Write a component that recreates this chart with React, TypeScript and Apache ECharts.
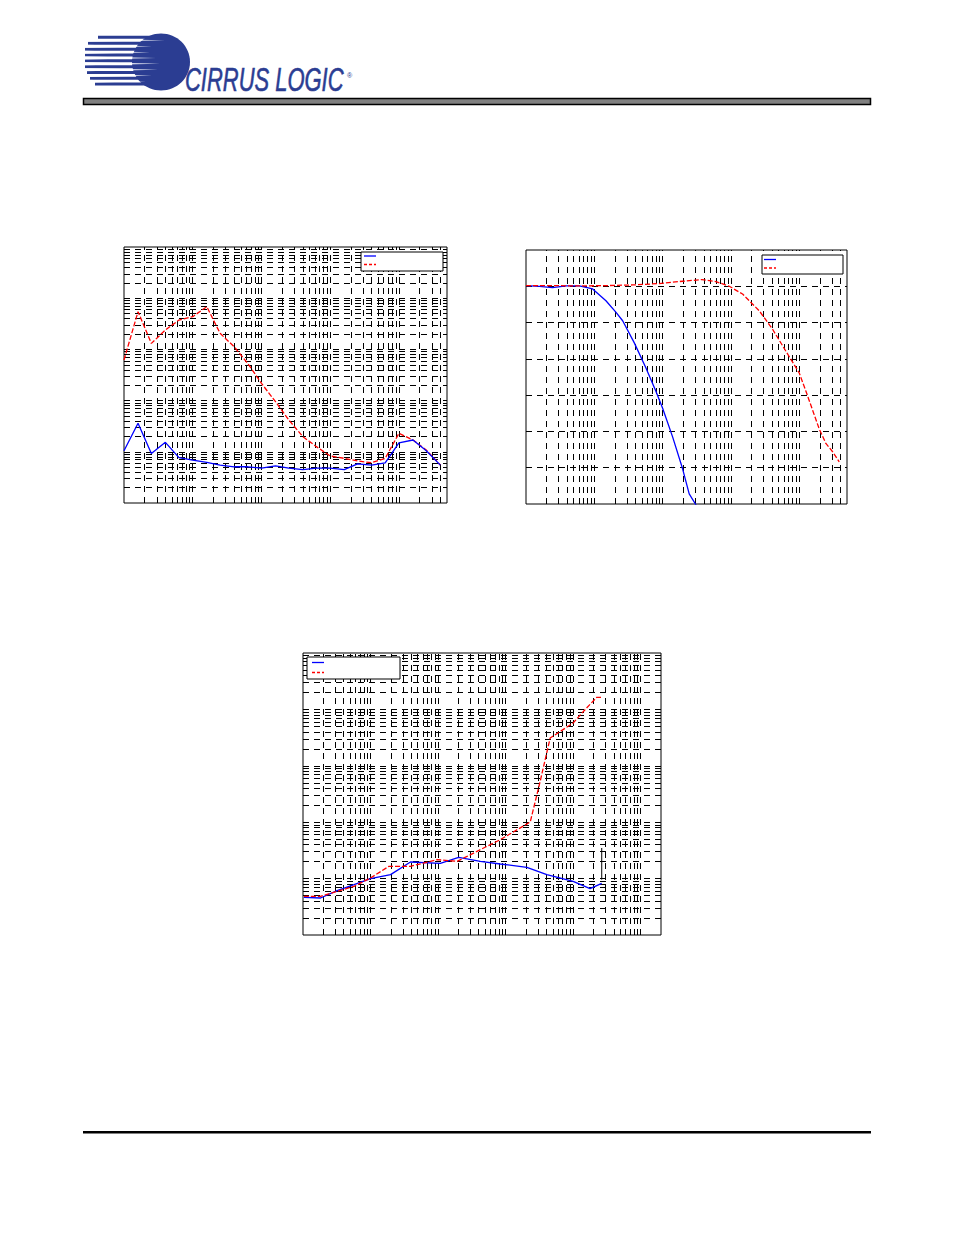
import React, { useEffect, useRef } from "react";
import * as echarts from "echarts";

// ---------- Chart 1 (left, log-log) ----------
const c1Freq = [1, 1.6, 2.5, 4, 6.3, 10, 16, 25, 40, 63, 100, 160, 250, 400, 630, 1000, 1600, 2500, 4000, 6300, 10000, 16000, 25000, 40000];
const c1Red = [0.062, 0.546, 0.131, 0.239, 0.375, 0.436, 0.683, 0.206, 0.113, 0.0534, 0.0217, 0.00953, 0.00418, 0.00198, 0.00126, 0.000828, 0.000745, 0.000661, 0.000614, 0.000745, 0.0023, 0.0017, 0.00108, 0.000552];
const c1Blue = [0.00105, 0.0036, 0.00093, 0.00153, 0.00077, 0.00069, 0.00062, 0.00055, 0.00051, 0.00051, 0.00048, 0.00053, 0.00048, 0.00045, 0.00048, 0.00048, 0.00045, 0.00058, 0.00055, 0.00061, 0.0015, 0.0017, 0.00105, 0.00055];

// ---------- Chart 2 (right, log-x, linear y) ----------
const c2BlueFreq = [1, 1.57, 2.45, 3.85, 6.03, 9.46, 14.8, 20.8, 26, 38.5, 57, 80, 100, 140, 196, 245, 307, 363];
const c2BlueVal = [0.19, 0, -0.37, 0.09, 0.09, -0.74, -3.98, -7.2, -9.5, -15.6, -22.5, -29, -33.6, -41.5, -50.3, -57.2, -60.2, -63];
const c2RedFreq = [1, 2.45, 6.03, 14.8, 36.6, 89, 196, 376, 603, 946, 1480, 2600, 4070, 6380, 10000, 12570, 15660, 19500, 24500, 30800, 38500];
const c2RedVal = [0.19, 0.19, 0.09, 0.19, 0.37, 0.74, 1.39, 1.85, 1.3, 0, -2.13, -6.76, -11.85, -17.9, -23.9, -29, -34.1, -39.2, -43.3, -45.6, -48.4];
const c2YTicks = [-50, -40, -30, -20, -10, 0];

// ---------- Chart 3 (bottom, log-log) ----------
const c3BlueFreq = [1.03, 1.82, 3.2, 5.7, 10, 19.8, 39, 108, 202, 423, 833, 2066, 4080, 10000, 17800, 26500];
const c3BlueVal = [0.00466, 0.00453, 0.0061, 0.0078, 0.00997, 0.01175, 0.0197, 0.01866, 0.0238, 0.0202, 0.01815, 0.01585, 0.01175, 0.00895, 0.00664, 0.00824];
const c3RedFreq = [1.03, 1.82, 3.2, 5.7, 10, 18.7, 39, 97, 191, 377, 833, 2316, 3250, 4570, 10000, 15800, 22400, 27400];
const c3RedVal = [0.00485, 0.00485, 0.00594, 0.0073, 0.01025, 0.0165, 0.0165, 0.0217, 0.0202, 0.0304, 0.049, 0.1009, 0.531, 3.11, 5.74, 10.6, 16.4, 16.4];
const c3MarkerFreq = 26500;
const c3MarkerRange = [0.0349, 0.0096];

const BLUE = "#0000ff";
const RED = "#ff0000";
const NAVY = "#2b3d92";

function logTicks(min: number, max: number): number[] {
  const out: number[] = [];
  for (let e = -6; e <= 7; e++) {
    for (let m = 1; m <= 9; m++) {
      const v = parseFloat((m * Math.pow(10, e)).toPrecision(6));
      if (v > min * 1.0001 && v < max * 0.9999) out.push(v);
    }
  }
  return out;
}

const gridLineStyle = { color: "#000", width: 1, type: [6, 5] as any, opacity: 1 };

function gridSeries(idx: number, xs: number[], ys: number[], anchor: [number, number]) {
  return {
    type: "line",
    xAxisIndex: idx,
    yAxisIndex: idx,
    data: [anchor],
    symbol: "none",
    lineStyle: { opacity: 0 },
    silent: true,
    z: 1,
    markLine: {
      silent: true,
      precision: 12,
      symbol: ["none", "none"],
      label: { show: false },
      lineStyle: gridLineStyle,
      emphasis: { disabled: true },
      data: [...xs.map((v) => ({ xAxis: v })), ...ys.map((v) => ({ yAxis: v }))],
    },
  };
}

function curve(idx: number, xs: number[], ys: number[], color: string, dashed: boolean) {
  return {
    type: "line",
    xAxisIndex: idx,
    yAxisIndex: idx,
    data: xs.map((x, i) => [x, ys[i]]),
    symbol: "none",
    showSymbol: false,
    clip: true,
    z: 5,
    lineStyle: { color, width: 1.3, type: dashed ? ([5, 2] as any) : "solid" },
  };
}

const hiddenAxis = (type: string, min: number, max: number, idx: number, extra: any = {}) => ({
  type,
  gridIndex: idx,
  min,
  max,
  ...(type === "log" ? { logBase: 10 } : {}),
  axisLabel: { show: false },
  axisTick: { show: false },
  axisLine: { show: false },
  splitLine: { show: false },
  ...extra,
});

function legendBox(x: number, y: number, w: number, h: number, lx: number, ly1: number, ly2: number) {
  return [
    { type: "rect", z: 100, shape: { x, y, width: w, height: h }, style: { fill: "#fff", stroke: "#000", lineWidth: 1 } },
    { type: "line", z: 101, shape: { x1: lx, y1: ly1, x2: lx + 12, y2: ly1 }, style: { stroke: BLUE, lineWidth: 1.3 } },
    { type: "line", z: 101, shape: { x1: lx, y1: ly2, x2: lx + 12, y2: ly2 }, style: { stroke: RED, lineWidth: 1.3, lineDash: [3, 2] } },
  ];
}

function logoElements() {
  const rows = [37.3, 43.3, 49.3, 55, 60.8, 66.7, 72.6, 78.3, 84];
  const starts = [98, 88, 85, 85, 85, 85, 87, 90, 95];
  const whiteEnds = [165, 152, 150, 156, 160, 158, 152, 146, 140];
  const els: any[] = [];
  rows.forEach((y, i) => {
    els.push({ type: "rect", z: 100, shape: { x: starts[i], y: y - 1.5, width: 165 - starts[i], height: 3 }, style: { fill: NAVY } });
  });
  els.push({ type: "ellipse", z: 101, shape: { cx: 161, cy: 62, rx: 29, ry: 28.5 }, style: { fill: NAVY } });
  for (let i = 0; i < rows.length - 1; i++) {
    const yc = (rows[i] + rows[i + 1]) / 2;
    els.push({
      type: "polygon",
      z: 102,
      shape: { points: [[84, yc - 1.5], [whiteEnds[i], yc], [84, yc + 1.5]] },
      style: { fill: "#fff" },
    });
  }
  els.push({
    type: "group",
    x: 185,
    y: 79.5,
    scaleX: 0.665,
    z: 103,
    children: [
      {
        type: "text",
        z: 103,
        style: {
          text: "CIRRUS LOGIC",
          x: 0,
          y: 0,
          fill: NAVY,
          stroke: NAVY,
          lineWidth: 0.6,
          fontFamily: "Liberation Sans",
          fontStyle: "italic",
          fontSize: 33,
          textVerticalAlign: "middle",
          textAlign: "left",
        },
      },
    ],
  });
  els.push({
    type: "text",
    z: 103,
    style: { text: "®", x: 347, y: 72, fill: NAVY, fontFamily: "Liberation Sans", fontSize: 7 },
  });
  return els;
}

export default function App() {
  const ref = useRef<HTMLDivElement>(null);
  useEffect(() => {
    if (!ref.current) return;
    const chart = echarts.init(ref.current, undefined, { renderer: "svg" });
    const grids = [
      { left: 124, top: 247, width: 323, height: 256 },
      { left: 526, top: 250, width: 321, height: 254 },
      { left: 303, top: 653, width: 358, height: 282 },
    ].map((g) => ({ ...g, show: true, borderColor: "#000", borderWidth: 1, backgroundColor: "transparent", containLabel: false }));

    const option: any = {
      animation: false,
      backgroundColor: "#fff",
      grid: grids,
      xAxis: [
        hiddenAxis("log", 1, 50000, 0),
        hiddenAxis("log", 1, 50000, 1),
        hiddenAxis("log", 1, 200000, 2),
      ],
      yAxis: [
        hiddenAxis("log", 0.0001, 10, 0),
        hiddenAxis("value", -60, 10, 1, { interval: 10 }),
        hiddenAxis("log", 0.001, 100, 2),
      ],
      series: [
        gridSeries(0, logTicks(1, 50000), logTicks(0.0001, 10), [1, 0.0001]),
        gridSeries(1, logTicks(1, 50000), c2YTicks, [1, -60]),
        gridSeries(2, logTicks(1, 200000), logTicks(0.001, 100), [1, 0.001]),
        curve(0, c1Freq, c1Red, RED, true),
        curve(0, c1Freq, c1Blue, BLUE, false),
        curve(1, c2BlueFreq, c2BlueVal, BLUE, false),
        curve(1, c2RedFreq, c2RedVal, RED, true),
        curve(2, c3BlueFreq, c3BlueVal, BLUE, false),
        curve(2, c3RedFreq, c3RedVal, RED, true),
        {
          type: "line",
          xAxisIndex: 2,
          yAxisIndex: 2,
          data: [[c3MarkerFreq, c3MarkerRange[0]], [c3MarkerFreq, c3MarkerRange[1]]],
          symbol: "none",
          lineStyle: { color: "#000", width: 1 },
          z: 6,
          silent: true,
        },
      ],
      graphic: [
        ...logoElements(),
        { type: "rect", z: 100, shape: { x: 83.5, y: 98.5, width: 787, height: 6 }, style: { fill: "#808080", stroke: "#000", lineWidth: 1.5 } },
        { type: "rect", z: 100, shape: { x: 83, y: 1131, width: 788, height: 2.5 }, style: { fill: "#000" } },
        ...legendBox(361, 252, 82, 19, 364, 256, 264.5),
        ...legendBox(762, 255, 81, 19, 764, 259.5, 268),
        ...legendBox(307, 657, 93, 22, 312, 662.5, 672.5),
      ],
    };
    chart.setOption(option);
    return () => chart.dispose();
  }, []);
  return <div ref={ref} style={{ position: "absolute", left: 0, top: 0, width: 954, height: 1235 }} />;
}
